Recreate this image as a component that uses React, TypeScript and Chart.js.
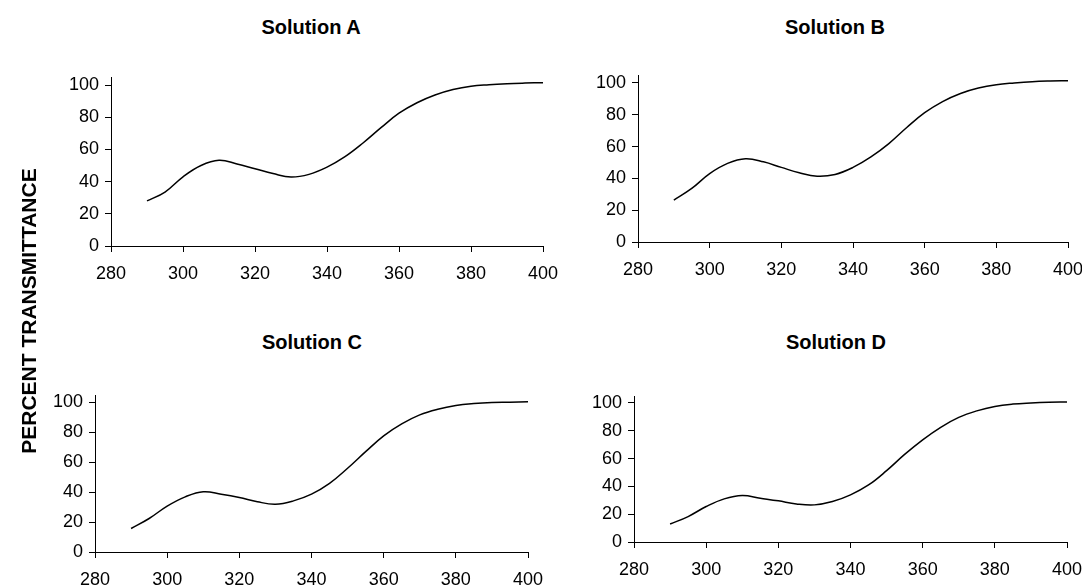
import React, { useEffect, useRef } from "react";
import { Chart, registerables } from "chart.js";

Chart.register(...registerables);

const wavelengths = [290, 295, 300, 305, 310, 315, 320, 325, 330, 335, 340, 345, 350, 355, 360, 365, 370, 375, 380, 385, 390, 395, 400];
const solutionA = [28, 33.5, 43, 50, 53.2, 51, 48, 45, 42.8, 44.5, 49, 55.5, 64, 73.5, 82.5, 89, 93.8, 97.2, 99.3, 100.2, 100.8, 101.2, 101.5];
const solutionB = [26.4, 33.7, 43, 49.4, 52.3, 50.4, 46.9, 43.5, 41.4, 42.5, 46.9, 53.5, 61.9, 72, 81.3, 88.3, 93.4, 96.8, 98.9, 100, 100.8, 101.2, 101.4];
const solutionC = [15.7, 22.4, 30.7, 36.9, 40.3, 38.7, 36.5, 33.6, 32, 34.2, 38.7, 45.9, 56, 67.1, 77.7, 85.7, 91.7, 95.5, 98, 99.3, 100, 100.2, 100.5];
const solutionD = [12.9, 18.3, 25.5, 31, 33.4, 31.5, 29.6, 27.4, 26.7, 29.1, 33.9, 41, 51.3, 63, 73.5, 82.5, 89.6, 94.3, 97.5, 99.2, 100, 100.5, 100.7];
const titles = ["Solution A", "Solution B", "Solution C", "Solution D"];
const xTicks = [280, 300, 320, 340, 360, 380, 400];
const yTicks = [0, 20, 40, 60, 80, 100];
const yLabel = "PERCENT TRANSMITTANCE";

const FONT = "'Liberation Sans', Arial, Helvetica, sans-serif";
const Y_W = 60;
const X_H = 40;
const PAD_T = 20;
const PAD_R = 30;

type Panel = { title: string; values: number[]; axisX: number; top: number; bottom: number; right: number; titleX: number; titleTop: number };

const panels: Panel[] = [
  { title: titles[0], values: solutionA, axisX: 111, top: 77, bottom: 246, right: 543, titleX: 311, titleTop: 17 },
  { title: titles[1], values: solutionB, axisX: 638, top: 75, bottom: 242, right: 1068, titleX: 835, titleTop: 17 },
  { title: titles[2], values: solutionC, axisX: 95, top: 395, bottom: 552, right: 528, titleX: 312, titleTop: 332 },
  { title: titles[3], values: solutionD, axisX: 634, top: 396, bottom: 542, right: 1067, titleX: 836, titleTop: 332 },
];

function PanelChart({ p }: { p: Panel }) {
  const ref = useRef<HTMLCanvasElement | null>(null);
  const w = p.right - p.axisX + Y_W + PAD_R;
  const h = p.bottom - p.top + PAD_T + X_H;
  useEffect(() => {
    if (!ref.current) return;
    const tickFont = { family: FONT, size: 18 };
    const chart = new Chart(ref.current, {
      type: "line",
      data: {
        datasets: [
          {
            data: wavelengths.map((x, i) => ({ x, y: p.values[i] })),
            borderColor: "#000",
            borderWidth: 1.5,
            pointRadius: 0,
            fill: false,
            tension: 0.4,
          },
        ],
      },
      options: {
        animation: false,
        responsive: false,
        maintainAspectRatio: false,
        devicePixelRatio: 1,
        layout: { padding: { top: PAD_T, right: PAD_R, left: 0, bottom: 0 } },
        plugins: { legend: { display: false }, tooltip: { enabled: false }, title: { display: false } },
        scales: {
          x: {
            type: "linear",
            min: xTicks[0],
            max: xTicks[xTicks.length - 1],
            ticks: { color: "#000", font: tickFont, padding: 11, maxRotation: 0, autoSkip: false },
            grid: { drawOnChartArea: false, drawTicks: true, tickLength: 6, color: "#000", lineWidth: 1 },
            border: { display: true, color: "#000", width: 1 },
            afterBuildTicks: (s: any) => { s.ticks = xTicks.map((v) => ({ value: v })); },
            afterFit: (s: any) => { s.height = X_H; },
          },
          y: {
            type: "linear",
            min: 0,
            max: 105,
            ticks: { color: "#000", font: tickFont, padding: 6 },
            grid: { drawOnChartArea: false, drawTicks: true, tickLength: 6, color: "#000", lineWidth: 1 },
            border: { display: true, color: "#000", width: 1 },
            afterBuildTicks: (s: any) => { s.ticks = yTicks.map((v) => ({ value: v })); },
            afterFit: (s: any) => { s.width = Y_W; },
          },
        },
      },
    } as any);
    return () => chart.destroy();
  }, []);
  return (
    <>
      <div
        style={{
          position: "absolute",
          left: p.titleX - 150,
          width: 300,
          top: p.titleTop,
          textAlign: "center",
          fontFamily: FONT,
          fontWeight: "bold",
          fontSize: 20,
          lineHeight: "20px",
          color: "#000",
        }}
      >
        {p.title}
      </div>
      <canvas
        ref={ref}
        width={w}
        height={h}
        style={{ position: "absolute", left: p.axisX - Y_W, top: p.top - PAD_T, width: w, height: h }}
      />
    </>
  );
}

export default function App() {
  return (
    <div style={{ position: "fixed", left: 0, top: 0, width: 1082, height: 586, background: "#fff", overflow: "hidden" }}>
      {panels.map((p, i) => (
        <PanelChart key={i} p={p} />
      ))}
      <div
        style={{
          position: "absolute",
          left: 29 - 200,
          top: 311 - 12,
          width: 400,
          height: 24,
          lineHeight: "24px",
          textAlign: "center",
          transform: "rotate(-90deg)",
          fontFamily: FONT,
          fontWeight: "bold",
          fontSize: 21,
          color: "#000",
          whiteSpace: "nowrap",
        }}
      >
        {yLabel}
      </div>
    </div>
  );
}
